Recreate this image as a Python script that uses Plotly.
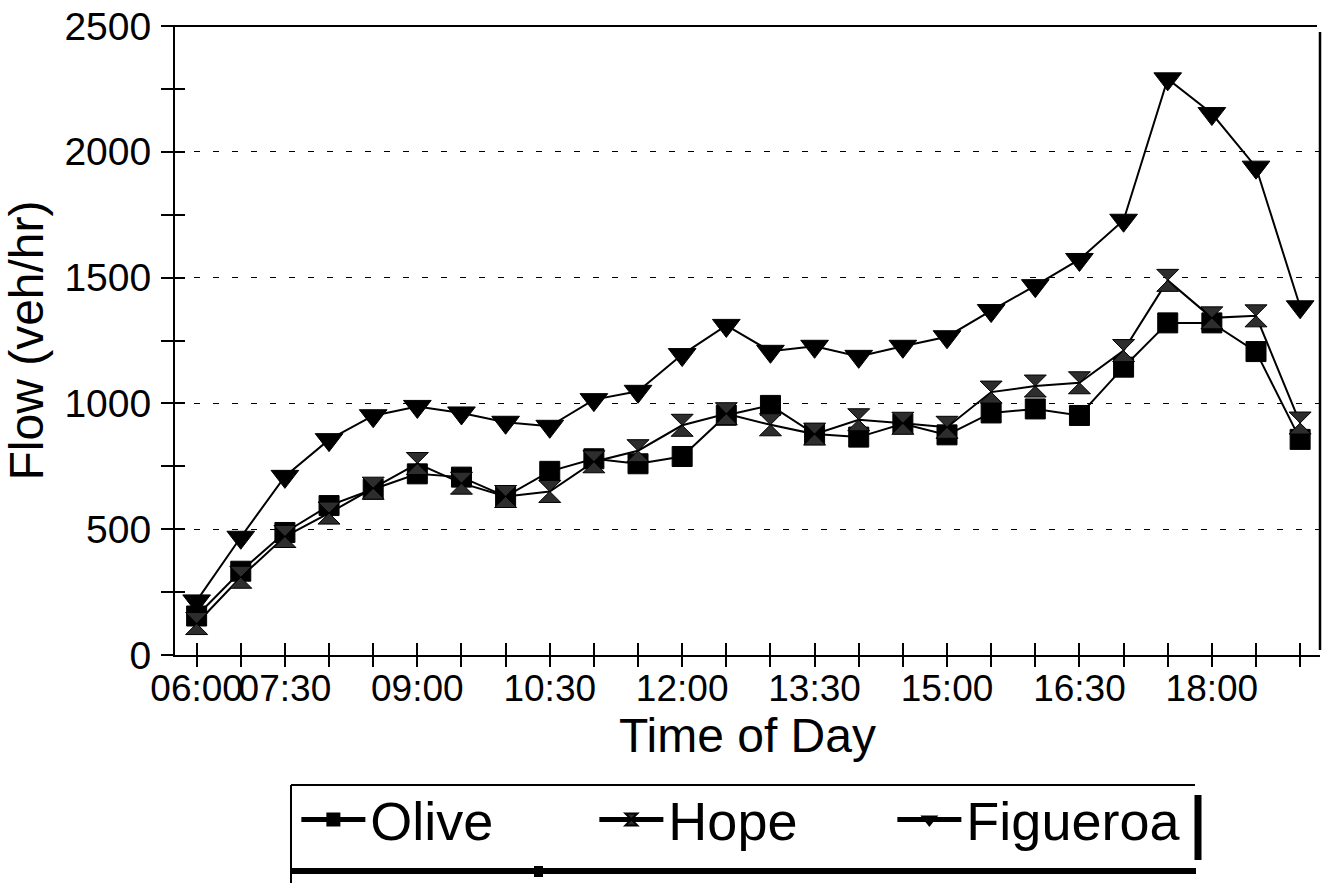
import plotly.graph_objects as go

# ---- data ----
interval_index = list(range(26))
tick_positions = [0, 2, 5, 8, 11, 14, 17, 20, 23]
tick_labels = ["06:00", "07:30", "09:00", "10:30", "12:00", "13:30", "15:00", "16:30", "18:00"]

olive = [155, 333, 487, 594, 659, 720, 707, 630, 730, 780, 760, 789, 953, 992, 878,
         866, 919, 875, 962, 978, 952, 1144, 1320, 1320, 1206, 857]
hope = [125, 309, 471, 564, 663, 761, 683, 630, 650, 768, 812, 913, 959, 915, 878,
        935, 921, 905, 1045, 1069, 1082, 1210, 1489, 1340, 1348, 922]
figueroa = [215, 468, 710, 856, 951, 988, 962, 925, 909, 1015, 1048, 1194, 1310, 1207, 1227,
            1187, 1227, 1265, 1369, 1468, 1572, 1728, 2290, 2152, 1939, 1384]

y_ticks = [0, 500, 1000, 1500, 2000, 2500]
y_minor = list(range(0, 2501, 250))

FONT = "Liberation Sans, Arial, Helvetica, sans-serif"

fig = go.Figure()
series = [
    ("Olive", olive, "square", 20, "black"),
    ("Hope", hope, "hourglass", 22, "rgb(45,45,45)"),
    ("Figueroa", figueroa, "triangle-down", 24, "black"),
]
for name, vals, sym, size, col in series:
    fig.add_trace(go.Scatter(
        x=interval_index, y=vals, name=name, mode="lines+markers",
        line=dict(color="black", width=2),
        marker=dict(symbol=sym, size=size, color=col, line=dict(color="black", width=1)),
    ))

# invisible trace carrying the overlay axes (inside half of crossing ticks)
fig.add_trace(go.Scatter(x=[0], y=[0], xaxis="x2", yaxis="y2", mode="markers",
                         marker=dict(opacity=0), showlegend=False, hoverinfo="skip"))

xr = [-0.49, 25.45]
fig.update_layout(
    width=1323, height=883,
    margin=dict(l=175, r=3, t=26, b=228),
    paper_bgcolor="white", plot_bgcolor="white",
    font=dict(family=FONT, color="black"),
    showlegend=True,
    legend=dict(orientation="h", x=0.106, xanchor="left", y=-0.262, yanchor="middle",
                font=dict(size=54, family=FONT), entrywidth=219, entrywidthmode="pixels",
                itemwidth=64,
                bgcolor="rgba(0,0,0,0)", itemsizing="constant"),
    xaxis=dict(range=xr, tickvals=tick_positions, ticktext=tick_labels, tickangle=0,
               automargin=False,
               ticks="outside", ticklen=10, tickwidth=1.5, tickcolor="black",
               ticklabelstandoff=-10,
               minor=dict(tickvals=interval_index, ticks="outside", ticklen=10,
                          tickwidth=1.5, tickcolor="black", showgrid=False),
               showline=True, linecolor="black", linewidth=2, showgrid=False, zeroline=False,
               tickfont=dict(size=37), title=dict(text="Time of Day", font=dict(size=48), standoff=3)),
    xaxis2=dict(range=xr, overlaying="x", anchor="y", side="bottom", tickvals=interval_index,
                automargin=False,
                ticks="inside", ticklen=12, tickwidth=1.5, tickcolor="black",
                showticklabels=False, showgrid=False, showline=False, zeroline=False),
    yaxis=dict(range=[0, 2500], tickvals=y_ticks, ticks="outside", ticklen=12, tickwidth=1.5,
               automargin=False,
               tickcolor="black", ticklabelstandoff=2, ticklabeloverflow="allow",
               minor=dict(tickvals=y_minor, ticks="outside", ticklen=12, tickwidth=1.5,
                          tickcolor="black", showgrid=False),
               showgrid=True, gridcolor="black", gridwidth=1.3, griddash="6px,13px",
               showline=True, linecolor="black", linewidth=2, zeroline=False,
               tickfont=dict(size=39), title=dict(text="Flow (veh/hr)", font=dict(size=48), standoff=19)),
    yaxis2=dict(range=[0, 2500], overlaying="y", anchor="x", side="left", tickvals=y_minor,
                automargin=False,
                ticks="inside", ticklen=10, tickwidth=1.5, tickcolor="black",
                showticklabels=False, showgrid=False, showline=False, zeroline=False),
)

W = 1145.0
H = 629.0
def px(x):
    return (x - 175) / W
def py(y):
    return (655 - y) / H

shapes = [
    # chart frame: top and right lines
    dict(type="line", xref="paper", yref="paper", x0=px(163), x1=px(1317), y0=1, y1=1,
         line=dict(color="black", width=2)),
    dict(type="line", xref="paper", yref="paper", x0=px(1320), x1=px(1320), y0=py(650), y1=py(32),
         line=dict(color="black", width=2.5)),
    # legend box
    dict(type="line", xref="paper", yref="paper", x0=px(291), x1=px(291), y0=py(785), y1=py(885),
         line=dict(color="black", width=2)),
    dict(type="line", xref="paper", yref="paper", x0=px(291), x1=px(1195), y0=py(785), y1=py(785),
         line=dict(color="black", width=2)),
    dict(type="line", xref="paper", yref="paper", x0=px(291), x1=px(1196), y0=py(871), y1=py(871),
         line=dict(color="black", width=6)),
    dict(type="line", xref="paper", yref="paper", x0=px(1198), x1=px(1198), y0=py(795), y1=py(860),
         line=dict(color="black", width=7)),
    dict(type="rect", xref="paper", yref="paper", x0=px(534), x1=px(543), y0=py(877), y1=py(866),
         fillcolor="black", line=dict(width=0)),
]
fig.update_layout(shapes=shapes)

fig.write_html("out.html", config={"displayModeBar": False},
               post_script="document.body.style.margin='0';document.body.style.overflow='hidden';")
